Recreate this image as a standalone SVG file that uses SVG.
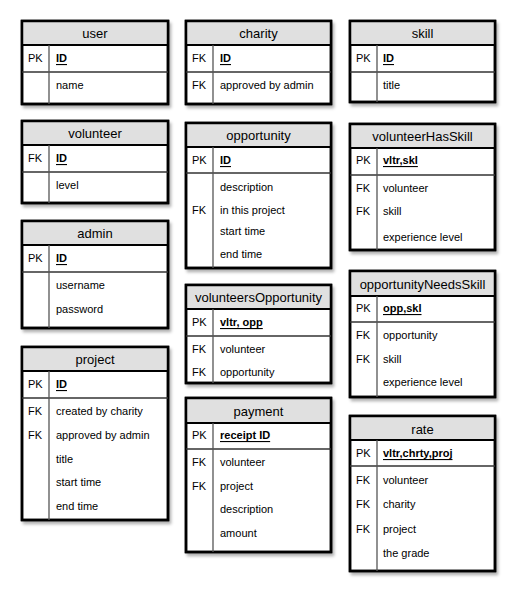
<svg xmlns="http://www.w3.org/2000/svg" width="522" height="598" viewBox="0 0 522 598">
<defs>
<filter id="sh" x="-10%" y="-10%" width="130%" height="130%">
<feDropShadow dx="2" dy="3" stdDeviation="1.5" flood-color="#000" flood-opacity="0.3"/>
</filter>
</defs>
<style>
.box{fill:#fff;stroke:#000;stroke-width:2.5;filter:url(#sh)}
.hd{fill:#e0e0e0;stroke:none}
.hl{stroke:#000;stroke-width:2}
.sep{stroke:#333;stroke-width:1.3}
.vl{stroke:#555;stroke-width:1.3}
.edge{fill:none;stroke:#000;stroke-width:2.5}
text{font-family:"Liberation Sans",Arial,sans-serif;fill:#000}
.t{font-size:13px;text-anchor:middle;dominant-baseline:central}
.k{font-size:11px;dominant-baseline:central}
.f{font-size:11px;dominant-baseline:central}
.pk{font-size:11px;font-weight:bold;text-decoration:underline;dominant-baseline:central}
</style>
<g id="connectors"/>

<g id="user">
<rect class="box" x="22" y="21" width="146" height="83"/>
<rect class="hd" x="23" y="22" width="144" height="23"/>
<rect class="edge" x="22" y="21" width="146" height="83"/>
<line class="hl" x1="22" y1="45" x2="168" y2="45"/>
<line class="sep" x1="22" y1="72" x2="168" y2="72"/>
<line class="vl" x1="49" y1="45" x2="49" y2="104"/>
<text class="t" x="95" y="33">user</text>
<text class="k" x="28" y="58">PK</text><text class="pk" x="56" y="58">ID</text>
<text class="f" x="56" y="85">name</text>
</g>

<g id="volunteer">
<rect class="box" x="22" y="121" width="146" height="82"/>
<rect class="hd" x="23" y="122" width="144" height="23"/>
<rect class="edge" x="22" y="121" width="146" height="82"/>
<line class="hl" x1="22" y1="145" x2="168" y2="145"/>
<line class="sep" x1="22" y1="172" x2="168" y2="172"/>
<line class="vl" x1="49" y1="145" x2="49" y2="203"/>
<text class="t" x="95" y="133">volunteer</text>
<text class="k" x="28" y="158">FK</text><text class="pk" x="56" y="158">ID</text>
<text class="f" x="56" y="185">level</text>
</g>

<g id="admin">
<rect class="box" x="22" y="221" width="146" height="107"/>
<rect class="hd" x="23" y="222" width="144" height="23"/>
<rect class="edge" x="22" y="221" width="146" height="107"/>
<line class="hl" x1="22" y1="245" x2="168" y2="245"/>
<line class="sep" x1="22" y1="272" x2="168" y2="272"/>
<line class="vl" x1="49" y1="245" x2="49" y2="328"/>
<text class="t" x="95" y="233">admin</text>
<text class="k" x="28" y="258">PK</text><text class="pk" x="56" y="258">ID</text>
<text class="f" x="56" y="285">username</text>
<text class="f" x="56" y="309">password</text>
</g>

<g id="project">
<rect class="box" x="22" y="347" width="146" height="173"/>
<rect class="hd" x="23" y="348" width="144" height="23"/>
<rect class="edge" x="22" y="347" width="146" height="173"/>
<line class="hl" x1="22" y1="371" x2="168" y2="371"/>
<line class="sep" x1="22" y1="398" x2="168" y2="398"/>
<line class="vl" x1="49" y1="371" x2="49" y2="520"/>
<text class="t" x="95" y="359">project</text>
<text class="k" x="28" y="384">PK</text><text class="pk" x="56" y="384">ID</text>
<text class="k" x="28" y="411">FK</text><text class="f" x="56" y="411">created by charity</text>
<text class="k" x="28" y="435">FK</text><text class="f" x="56" y="435">approved by admin</text>
<text class="f" x="56" y="459">title</text>
<text class="f" x="56" y="482">start time</text>
<text class="f" x="56" y="506">end time</text>
</g>

<g id="charity">
<rect class="box" x="186" y="21" width="145" height="83"/>
<rect class="hd" x="187" y="22" width="143" height="23"/>
<rect class="edge" x="186" y="21" width="145" height="83"/>
<line class="hl" x1="186" y1="45" x2="331" y2="45"/>
<line class="sep" x1="186" y1="72" x2="331" y2="72"/>
<line class="vl" x1="213" y1="45" x2="213" y2="104"/>
<text class="t" x="258.500" y="33">charity</text>
<text class="k" x="192" y="58">FK</text><text class="pk" x="220" y="58">ID</text>
<text class="k" x="192" y="85">FK</text><text class="f" x="220" y="85">approved by admin</text>
</g>

<g id="opportunity">
<rect class="box" x="186" y="123" width="145" height="145"/>
<rect class="hd" x="187" y="124" width="143" height="23"/>
<rect class="edge" x="186" y="123" width="145" height="145"/>
<line class="hl" x1="186" y1="147" x2="331" y2="147"/>
<line class="sep" x1="186" y1="173" x2="331" y2="173"/>
<line class="vl" x1="213" y1="147" x2="213" y2="268"/>
<text class="t" x="258.500" y="135">opportunity</text>
<text class="k" x="192" y="160">PK</text><text class="pk" x="220" y="160">ID</text>
<text class="f" x="220" y="187">description</text>
<text class="k" x="192" y="210">FK</text><text class="f" x="220" y="210">in this project</text>
<text class="f" x="220" y="231">start time</text>
<text class="f" x="220" y="254">end time</text>
</g>

<g id="volunteersOpportunity">
<rect class="box" x="186" y="285" width="145" height="98"/>
<rect class="hd" x="187" y="286" width="143" height="23"/>
<rect class="edge" x="186" y="285" width="145" height="98"/>
<line class="hl" x1="186" y1="309" x2="331" y2="309"/>
<line class="sep" x1="186" y1="336" x2="331" y2="336"/>
<line class="vl" x1="213" y1="309" x2="213" y2="383"/>
<text class="t" x="258.500" y="297">volunteersOpportunity</text>
<text class="k" x="192" y="322">PK</text><text class="pk" x="220" y="322">vltr, opp</text>
<text class="k" x="192" y="349">FK</text><text class="f" x="220" y="349">volunteer</text>
<text class="k" x="192" y="372">FK</text><text class="f" x="220" y="372">opportunity</text>
</g>

<g id="payment">
<rect class="box" x="186" y="398" width="145" height="154"/>
<rect class="hd" x="187" y="399" width="143" height="24"/>
<rect class="edge" x="186" y="398" width="145" height="154"/>
<line class="hl" x1="186" y1="423" x2="331" y2="423"/>
<line class="sep" x1="186" y1="449" x2="331" y2="449"/>
<line class="vl" x1="213" y1="423" x2="213" y2="552"/>
<text class="t" x="258.500" y="411">payment</text>
<text class="k" x="192" y="435">PK</text><text class="pk" x="220" y="435">receipt ID</text>
<text class="k" x="192" y="462">FK</text><text class="f" x="220" y="462">volunteer</text>
<text class="k" x="192" y="486">FK</text><text class="f" x="220" y="486">project</text>
<text class="f" x="220" y="509">description</text>
<text class="f" x="220" y="533">amount</text>
</g>

<g id="skill">
<rect class="box" x="350" y="21" width="145" height="81"/>
<rect class="hd" x="351" y="22" width="143" height="23"/>
<rect class="edge" x="350" y="21" width="145" height="81"/>
<line class="hl" x1="350" y1="45" x2="495" y2="45"/>
<line class="sep" x1="350" y1="72" x2="495" y2="72"/>
<line class="vl" x1="377" y1="45" x2="377" y2="102"/>
<text class="t" x="422.500" y="33">skill</text>
<text class="k" x="356" y="58">PK</text><text class="pk" x="383" y="58">ID</text>
<text class="f" x="383" y="85">title</text>
</g>

<g id="volunteerHasSkill">
<rect class="box" x="350" y="124" width="145" height="126"/>
<rect class="hd" x="351" y="125" width="143" height="23"/>
<rect class="edge" x="350" y="124" width="145" height="126"/>
<line class="hl" x1="350" y1="148" x2="495" y2="148"/>
<line class="sep" x1="350" y1="175" x2="495" y2="175"/>
<line class="vl" x1="377" y1="148" x2="377" y2="250"/>
<text class="t" x="422.500" y="136">volunteerHasSkill</text>
<text class="k" x="356" y="160">PK</text><text class="pk" x="383" y="160">vltr,skl</text>
<text class="k" x="356" y="188">FK</text><text class="f" x="383" y="188">volunteer</text>
<text class="k" x="356" y="211">FK</text><text class="f" x="383" y="211">skill</text>
<text class="f" x="383" y="237">experience level</text>
</g>

<g id="opportunityNeedsSkill">
<rect class="box" x="350" y="271" width="145" height="126"/>
<rect class="hd" x="351" y="272" width="143" height="24"/>
<rect class="edge" x="350" y="271" width="145" height="126"/>
<line class="hl" x1="350" y1="296" x2="495" y2="296"/>
<line class="sep" x1="350" y1="322" x2="495" y2="322"/>
<line class="vl" x1="377" y1="296" x2="377" y2="397"/>
<text class="t" x="422.500" y="284">opportunityNeedsSkill</text>
<text class="k" x="356" y="308">PK</text><text class="pk" x="383" y="308">opp,skl</text>
<text class="k" x="356" y="335">FK</text><text class="f" x="383" y="335">opportunity</text>
<text class="k" x="356" y="359">FK</text><text class="f" x="383" y="359">skill</text>
<text class="f" x="383" y="382">experience level</text>
</g>

<g id="rate">
<rect class="box" x="350" y="416" width="145" height="155"/>
<rect class="hd" x="351" y="417" width="143" height="23"/>
<rect class="edge" x="350" y="416" width="145" height="155"/>
<line class="hl" x1="350" y1="440" x2="495" y2="440"/>
<line class="sep" x1="350" y1="466" x2="495" y2="466"/>
<line class="vl" x1="377" y1="440" x2="377" y2="571"/>
<text class="t" x="422.500" y="429">rate</text>
<text class="k" x="356" y="453">PK</text><text class="pk" x="383" y="453">vltr,chrty,proj</text>
<text class="k" x="356" y="480">FK</text><text class="f" x="383" y="480">volunteer</text>
<text class="k" x="356" y="504">FK</text><text class="f" x="383" y="504">charity</text>
<text class="k" x="356" y="529">FK</text><text class="f" x="383" y="529">project</text>
<text class="f" x="383" y="553">the grade</text>
</g>
</svg>
